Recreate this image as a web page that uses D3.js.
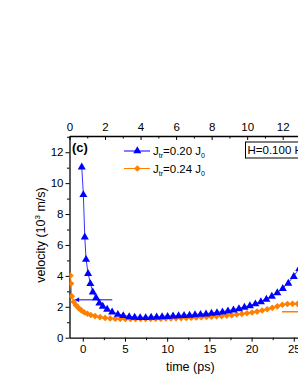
<!DOCTYPE html>
<html><head><meta charset="utf-8">
<script src="https://cdn.jsdelivr.net/npm/d3@7"></script>
<style>html,body{margin:0;padding:0;background:#fff;overflow:hidden}svg{display:block}text{font-family:"Liberation Sans",Arial,sans-serif;fill:#000}</style>
</head><body>
<script>
// ---- data ----
const blueT = [-0.12,0.07,0.24,0.39,0.63,0.90,1.19,1.58,1.97,2.37,2.89,3.48,4.16,4.80,5.50,6.15,6.80,7.45,8.10,8.75,9.40,10.05,10.70,11.35,12.00,12.65,13.30,13.95,14.60,15.25,15.90,16.55,17.20,17.85,18.50,19.15,19.80,20.45,21.10,21.75,22.40,23.05,23.70,24.35,25.00,25.65];
const blueV = [11.07,9.28,6.54,5.09,4.17,3.52,2.98,2.61,2.27,2.05,1.86,1.68,1.53,1.45,1.38,1.34,1.32,1.32,1.34,1.36,1.38,1.40,1.42,1.44,1.46,1.48,1.50,1.53,1.56,1.60,1.64,1.69,1.75,1.82,1.90,1.99,2.09,2.21,2.35,2.51,2.70,2.93,3.20,3.55,3.98,4.50];
const orangeT = [-1.47,-1.39,-1.30,-1.07,-0.80,-0.52,-0.20,0.15,0.55,0.95,1.46,2.05,2.65,3.25,3.85,4.45,5.05,5.65,6.25,6.85,7.45,8.05,8.65,9.25,9.85,10.45,11.05,11.65,12.25,12.85,13.45,14.05,14.65,15.25,15.85,16.45,17.05,17.65,18.25,18.85,19.45,20.05,20.65,21.25,21.85,22.45,23.05,23.65,24.25,24.85,25.45,26.05];
const orangeV = [4.02,3.50,2.68,2.32,2.10,1.93,1.78,1.65,1.55,1.47,1.40,1.33,1.28,1.25,1.23,1.22,1.21,1.21,1.21,1.21,1.22,1.22,1.23,1.23,1.24,1.25,1.26,1.27,1.28,1.29,1.31,1.32,1.34,1.36,1.38,1.40,1.43,1.46,1.50,1.54,1.58,1.63,1.69,1.76,1.84,1.93,2.03,2.13,2.18,2.19,2.19,2.19];
const blueRefT = [-0.9, 3.5], blueRefV = 2.45;
const orangeRefT = [23.6, 30], orangeRefV = 1.68;
const bottomTicks = [0,5,10,15,20,25,30];
const topTicks = [0,2,4,6,8,10,12,14];
const yTicks = [0,2,4,6,8,10,12];
const legendLabels = [["J","tr","=0.20 J","0"],["J","tr","=0.24 J","0"]];
const boxLabel = "H=0.100 H";
const panelLabel = "(c)";

const W = 298, H = 385;
const L = 69.5, R = 336, T = 136, B = 337.7;
const blue = "#0000ff", orange = "#ff8000";

const svg = d3.select("body").append("svg").attr("width", W).attr("height", H);
const x = d3.scaleLinear().domain([-1.57, 30]).range([L, R]);
const xTop = d3.scaleLinear().domain([0, 15]).range([L, R]);
const y = d3.scaleLinear().domain([0, 13.05]).range([B, T]);

// axes
svg.append("g").attr("transform", `translate(0,${B})`)
  .call(d3.axisBottom(x).tickValues(bottomTicks).tickSize(4).tickPadding(3).tickSizeOuter(0));
svg.append("g").attr("transform", `translate(0,${B})`)
  .call(d3.axisBottom(x).tickValues(d3.range(-2.5, 30.1, 5).filter(v=>v>-1.57)).tickSize(2.5).tickFormat("").tickSizeOuter(0))
  .select(".domain").remove();
svg.append("g").attr("transform", `translate(0,${T})`)
  .call(d3.axisTop(xTop).tickValues(topTicks).tickSizeInner(-4).tickPadding(5).tickSizeOuter(0));
svg.append("g").attr("transform", `translate(0,${T})`)
  .call(d3.axisTop(xTop).tickValues([1,3,5,7,9,11,13]).tickSizeInner(-2.5).tickFormat("").tickSizeOuter(0))
  .select(".domain").remove();
svg.append("g").attr("transform", `translate(${L},0)`)
  .call(d3.axisLeft(y).tickValues(yTicks).tickSize(4).tickPadding(2).tickSizeOuter(0));
svg.append("g").attr("transform", `translate(${L},0)`)
  .call(d3.axisLeft(y).tickValues([1,3,5,7,9,11,13]).tickSize(2.5).tickFormat("").tickSizeOuter(0))
  .select(".domain").remove();
svg.selectAll(".domain").attr("stroke", "#000").attr("stroke-width", 1.3);
svg.selectAll(".tick line").attr("stroke", "#000").attr("stroke-width", 1);
svg.selectAll(".tick text").attr("font-size", 11.5).attr("font-family", '"Liberation Sans",Arial,sans-serif');

// titles
svg.append("text").attr("x", (x(10)+x(15))/2 + 2).attr("y", 371).attr("text-anchor", "middle").attr("font-size", 12.5).text("time (ps)");
const yt = svg.append("text").attr("transform", `translate(45,235) rotate(-90)`).attr("text-anchor", "middle").attr("font-size", 12.5);
yt.append("tspan").text("velocity (10");
yt.append("tspan").attr("dy", -5).attr("font-size", 8).text("3");
yt.append("tspan").attr("dy", 5).text(" m/s)");

// clip
svg.append("clipPath").attr("id", "c").append("rect").attr("x", L).attr("y", T).attr("width", R-L).attr("height", B-T);
const g = svg.append("g").attr("clip-path", "url(#c)");

const line = d3.line().x(d => x(d[0])).y(d => y(d[1]));
const blueData = blueT.map((t,i) => [t, blueV[i]]);
const orangeData = orangeT.map((t,i) => [t, orangeV[i]]);

// reference lines
g.append("line").attr("x1", x(blueRefT[0])).attr("x2", x(blueRefT[1])).attr("y1", y(blueRefV)).attr("y2", y(blueRefV)).attr("stroke", blue).attr("stroke-width", 1);
g.append("path").attr("d", `M${x(blueRefT[0])},${y(blueRefV)} l4,-2.5 l0,5 z`).attr("fill", blue);
g.append("line").attr("x1", x(orangeRefT[0])).attr("x2", x(orangeRefT[1])).attr("y1", y(orangeRefV)).attr("y2", y(orangeRefV)).attr("stroke", orange).attr("stroke-width", 1.3);

g.append("path").datum(orangeData).attr("d", line).attr("fill", "none").attr("stroke", orange).attr("stroke-width", 1);
g.append("path").datum(blueData).attr("d", line).attr("fill", "none").attr("stroke", blue).attr("stroke-width", 1).attr("stroke-opacity", 0.8);

const tri = d3.symbol().type(d3.symbolTriangle).size(28);
const dia = d3.symbol().type(d3.symbolSquare).size(22);
g.selectAll(".o").data(orangeData).join("path").attr("d", dia)
  .attr("transform", d => `translate(${x(d[0])},${y(d[1])}) rotate(45)`).attr("fill", orange);
g.selectAll(".b").data(blueData).join("path").attr("d", tri)
  .attr("transform", d => `translate(${x(d[0])},${y(d[1])+0.5})`).attr("fill", blue);

// panel label
svg.append("text").attr("x", 72).attr("y", 152).attr("font-size", 13).attr("font-weight", "bold").text(panelLabel);

// legend
const lg = [{c: blue, sym: tri, rot: 0, y: 151}, {c: orange, sym: dia, rot: 45, y: 168.5}];
lg.forEach((d, i) => {
  svg.append("line").attr("x1", 124).attr("x2", 150).attr("y1", d.y).attr("y2", d.y).attr("stroke", d.c).attr("stroke-width", 1);
  svg.append("path").attr("d", d.sym).attr("transform", `translate(137.3,${d.y}) rotate(${d.rot})`).attr("fill", d.c);
  const t = svg.append("text").attr("x", 153).attr("y", d.y + 4).attr("font-size", 11.5);
  const lab = legendLabels[i];
  t.append("tspan").text(lab[0]);
  t.append("tspan").attr("dy", 3).attr("font-size", 7).text(lab[1]);
  t.append("tspan").attr("dy", -3).text(lab[2]);
  t.append("tspan").attr("dy", 3).attr("font-size", 7).text(lab[3]);
});

// box label
svg.append("rect").attr("x", 245.5).attr("y", 142).attr("width", 80).attr("height", 16).attr("fill", "#fff").attr("stroke", "#000").attr("stroke-width", 1);
svg.append("text").attr("x", 247.5).attr("y", 154).attr("font-size", 11.5).text(boxLabel);
</script>
</body></html>
